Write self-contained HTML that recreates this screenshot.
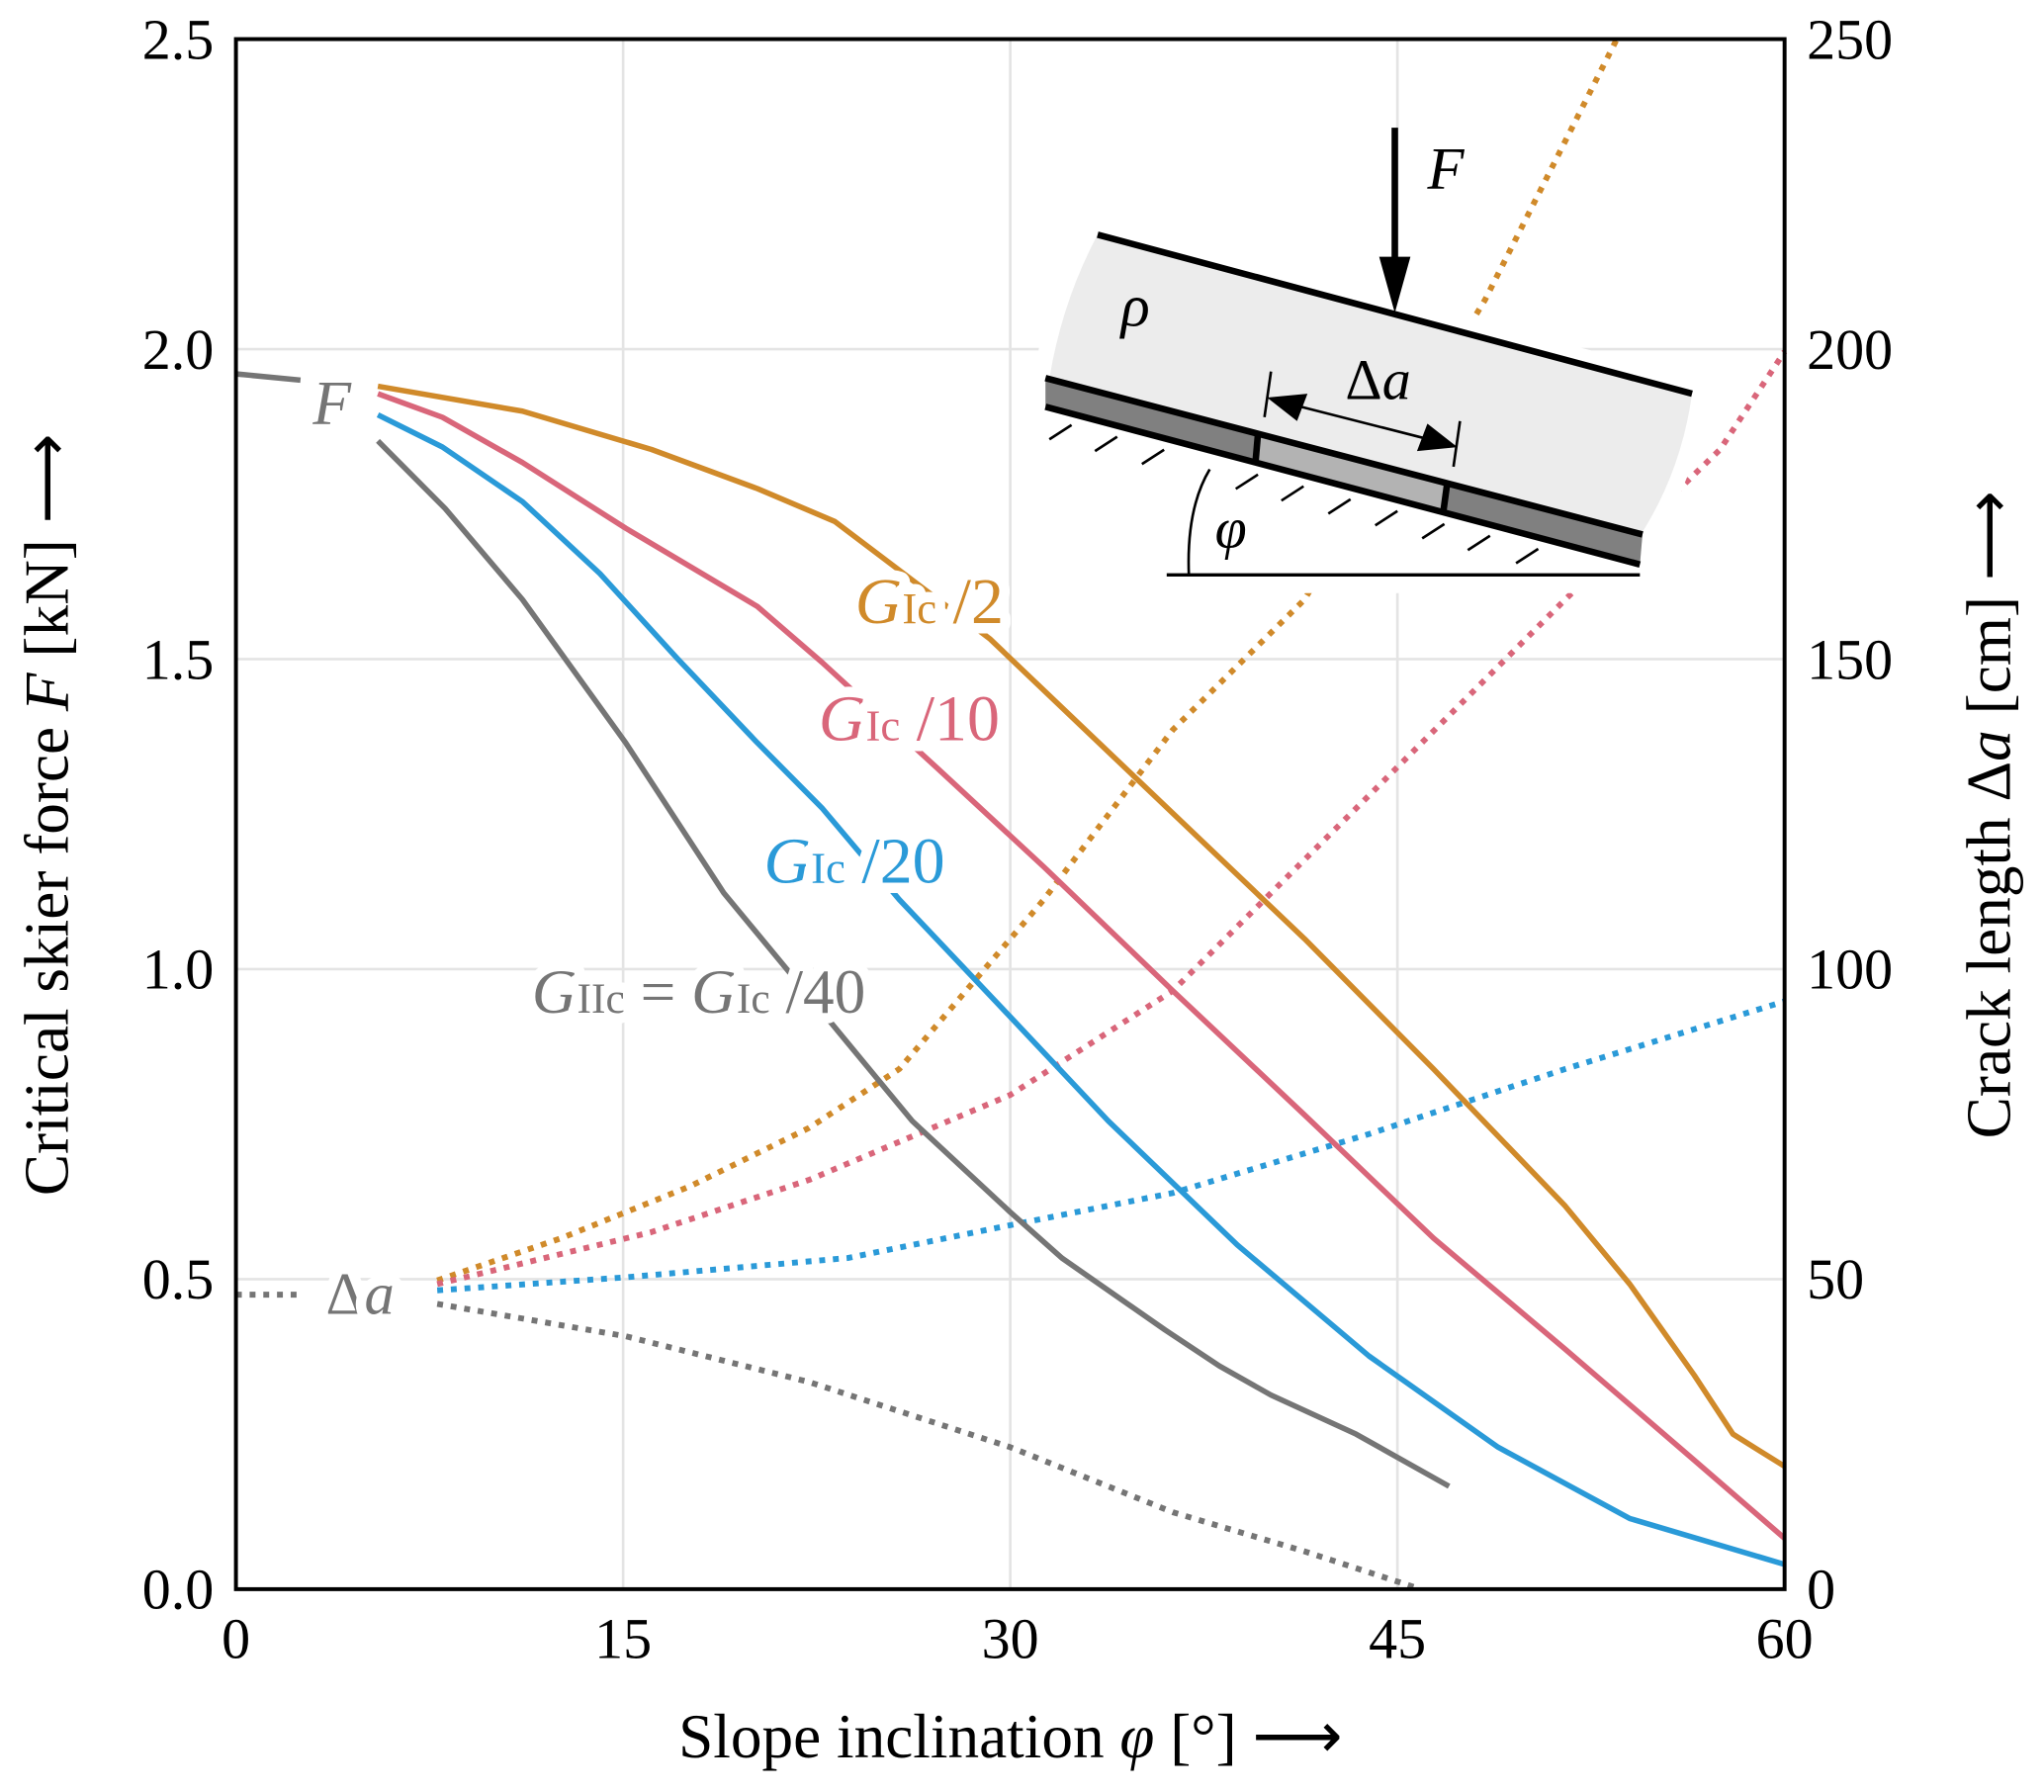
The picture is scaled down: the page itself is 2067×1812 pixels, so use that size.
<!DOCTYPE html>
<html><head><meta charset="utf-8"><style>
html,body{margin:0;padding:0;background:#fff}
svg{display:block}
text{font-family:"Liberation Serif",serif}
</style></head><body>
<svg id="chart" width="2067" height="1812" viewBox="0 0 1568 1374.6" preserveAspectRatio="none" xmlns="http://www.w3.org/2000/svg">
<g id="grid"></g>
<g id="series"></g>
<g id="inset">
  <path d="M842,180 L1298,302 Q1290,360 1260,408 L1258,443 L895,443 L800,318 Q810,240 842,180 Z" fill="#fff" stroke="#fff" stroke-width="24" stroke-linejoin="round"/>
  <path d="M842,180 L1298,302 Q1290,360 1260,408 L1258,433 L802,312 Q810,240 842,180 Z" fill="#ececec"/>
  <polygon points="802,290 965,333 965,355 802,312" fill="#808080"/>
  <polygon points="965,333 1110,372 1108,393 965,355" fill="#b3b3b3"/>
  <polygon points="1110,372 1260,410 1258,433 1108,393" fill="#808080"/>
  <line x1="842" y1="180" x2="1298" y2="302" stroke="#000" stroke-width="5"/>
  <line x1="802" y1="290" x2="1260" y2="410" stroke="#000" stroke-width="5"/>
  <line x1="802" y1="312" x2="1258" y2="433" stroke="#000" stroke-width="5"/>
  <line x1="965" y1="333" x2="963" y2="356" stroke="#000" stroke-width="5"/>
  <line x1="1110" y1="372" x2="1107" y2="394" stroke="#000" stroke-width="5"/>
  <g stroke="#000" stroke-width="2">
    <line x1="822" y1="326" x2="805" y2="337"/><line x1="857" y1="335" x2="840" y2="346"/><line x1="893" y1="345" x2="876" y2="356"/>
    <line x1="965" y1="364" x2="948" y2="375"/><line x1="1000" y1="373" x2="983" y2="384"/><line x1="1036" y1="383" x2="1019" y2="394"/>
    <line x1="1072" y1="392" x2="1055" y2="403"/><line x1="1108" y1="402" x2="1091" y2="413"/><line x1="1143" y1="411" x2="1126" y2="422"/><line x1="1180" y1="421" x2="1163" y2="432"/>
  </g>
  <line x1="895" y1="441" x2="1258" y2="441" stroke="#000" stroke-width="2.5"/>
  <path d="M912,441 Q910,390 928,360" fill="none" stroke="#000" stroke-width="2"/>
  <line x1="1070" y1="98" x2="1070" y2="200" stroke="#000" stroke-width="5"/>
  <polygon points="1058,197 1082,197 1070,240" fill="#000"/>
  <line x1="990" y1="310" x2="1100" y2="338" stroke="#000" stroke-width="2"/>
  <polygon points="972,305 1003,302 995,323" fill="#000"/>
  <polygon points="1118,343 1087,346 1095,325" fill="#000"/>
  <line x1="975" y1="285" x2="970" y2="320" stroke="#000" stroke-width="2"/>
  <line x1="1120" y1="323" x2="1115" y2="358" stroke="#000" stroke-width="2"/>
  <text x="1095" y="145" font-size="46" font-style="italic">F</text>
  <text x="860" y="250" font-size="46" font-style="italic">ρ</text>
  <text x="1032" y="306" font-size="44">Δ<tspan font-style="italic">a</tspan></text>
  <text x="932" y="420" font-size="44" font-style="italic">φ</text>
</g>
<g id="labels"></g>
<g id="axes"></g>
</svg>
<script>
const xTicks=[0,15,30,45,60];
const yTicksL=[0.0,0.5,1.0,1.5,2.0,2.5];
const yTickLabelsL=["0.0","0.5","1.0","1.5","2.0","2.5"];
const yTicksR=[0,50,100,150,200,250];
// force series [kN]
const phiHalf=[5.5,11.1,16.1,20.2,23.2,29.2,35.3,41.4,46.4,51.5,54,56.5,58,60];
const fHalf=[1.94,1.90,1.838,1.775,1.722,1.533,1.291,1.049,0.839,0.618,0.492,0.345,0.25,0.198];
const phiTenth=[5.5,8,11.1,15.1,20.2,22.7,27.2,31.3,36.3,41.4,46.4,51.5,56.5,60];
const fTenth=[1.928,1.89,1.817,1.711,1.585,1.495,1.323,1.165,0.965,0.765,0.566,0.387,0.208,0.082];
const phiTwentieth=[5.5,8,11.1,14.1,17.1,20.2,22.7,25.7,30,33.8,38.8,43.9,48.9,54,60];
const fTwentieth=[1.894,1.842,1.754,1.638,1.501,1.365,1.26,1.112,0.923,0.755,0.555,0.376,0.229,0.114,0.04];
const phiFortieth=[5.5,8.1,11.1,15.1,18.9,23.7,26.2,30,32,36,38.1,40.1,43.4,47];
const fFortieth=[1.852,1.743,1.596,1.365,1.123,0.881,0.755,0.608,0.534,0.418,0.36,0.313,0.25,0.166];
// crack length series [cm]
const phiDaHalf=[7.8,12.6,17.6,22.2,25.7,31.3,36.3,41.4,48.4,53.5];
const daHalf=[49.8,56.6,65,74.4,83.9,111.2,138.6,159.6,208,250];
const phiDaTenth=[7.8,16.1,22.2,30,36.3,43.9,51.5,57.5,60];
const daTenth=[49.2,57.6,66,79.7,96.5,128,159.6,183.8,199.6];
const phiDaTwentieth=[7.8,15.1,23.7,30,36.3,43.9,51.5,60];
const daTwentieth=[48.2,50.3,53.4,58.7,63.9,73.4,83.9,94.8];
const phiDaFortieth=[7.8,15.1,22.2,30,36.3,41.4,45.9];
const daFortieth=[46,40.8,33.4,22.9,12.4,6.1,0];

const X0=181,X1=1369,Y0=1219,Y1=30;
const xs=p=>X0+p/60*(X1-X0);
const yF=v=>Y0-v/2.5*(Y0-Y1);
const yA=v=>Y0-v/250*(Y0-Y1);
const NS="http://www.w3.org/2000/svg";
function mk(tag,parent,attrs){const e=document.createElementNS(NS,tag);for(const k in attrs)e.setAttribute(k,attrs[k]);parent.appendChild(e);return e;}
const grid=document.getElementById('grid'),ser=document.getElementById('series'),lab=document.getElementById('labels'),ax=document.getElementById('axes');
xTicks.slice(1,-1).forEach(t=>{const l=mk('line',grid,{x1:xs(t),x2:xs(t),y1:Y1,y2:Y0,stroke:'#e4e4e4','stroke-width':2});

});
yTicksL.slice(1,-1).forEach(t=>{const l=mk('line',grid,{x1:X0,x2:X1,y1:yF(t),y2:yF(t),stroke:'#e4e4e4','stroke-width':2});

});
function path(px,py,fy){return px.map((p,i)=>(i?'L':'M')+xs(p).toFixed(1)+','+fy(py[i]).toFixed(1)).join(' ');}
const colors={half:'#d08a2a',tenth:'#d9667a',twentieth:'#2a9ad8',fortieth:'#757575'};
function line(px,py,fy,col,dotted,name){const e=mk('path',ser,{d:path(px,py,fy),fill:'none',stroke:col,'stroke-width':dotted?4.5:4.2,'stroke-dasharray':dotted?'4.5 6':'none','stroke-linejoin':'round'});

}
line(phiDaHalf,daHalf,yA,colors.half,true,'crack-length-gic-2');
line(phiDaTenth,daTenth,yA,colors.tenth,true,'crack-length-gic-10');
line(phiDaTwentieth,daTwentieth,yA,colors.twentieth,true,'crack-length-gic-20');
line(phiDaFortieth,daFortieth,yA,colors.fortieth,true,'crack-length-gic-40');
line(phiHalf,fHalf,yF,colors.half,false,'force-gic-2');
line(phiTenth,fTenth,yF,colors.tenth,false,'force-gic-10');
line(phiTwentieth,fTwentieth,yF,colors.twentieth,false,'force-gic-20');
line(phiFortieth,fFortieth,yF,colors.fortieth,false,'force-gic-40');
line([0,2.5],[1.96,1.95],yF,colors.fortieth,false,'force-legend-stub');
line([0,2.5],[47.5,47.5],yA,colors.fortieth,true,'crack-legend-stub');
function txt(parent,x,y,s,html,attrs,name){const e=mk('text',parent,Object.assign({x:x,y:y,'font-size':s},attrs||{}));e.innerHTML=html;

return e;}
const halo={stroke:'#fff','stroke-width':16,'paint-order':'stroke','stroke-linejoin':'round'};
txt(lab,656,478,50,'<tspan font-style="italic">G</tspan><tspan font-size="34">Ic</tspan> /2',Object.assign({fill:colors.half},halo),'label-gic-2');
txt(lab,628,568,50,'<tspan font-style="italic">G</tspan><tspan font-size="34">Ic</tspan> /10',Object.assign({fill:colors.tenth},halo),'label-gic-10');
txt(lab,586,677,50,'<tspan font-style="italic">G</tspan><tspan font-size="34">Ic</tspan> /20',Object.assign({fill:colors.twentieth},halo),'label-gic-20');
txt(lab,408,777,48,'<tspan font-style="italic">G</tspan><tspan font-size="33">IIc</tspan> = <tspan font-style="italic">G</tspan><tspan font-size="33">Ic</tspan> /40',Object.assign({fill:colors.fortieth},halo),'label-giic-40');
txt(lab,240,325,48,'<tspan font-style="italic">F</tspan>',Object.assign({fill:colors.fortieth},halo),'legend-force');
txt(lab,250,1008,46,'Δ<tspan font-style="italic">a</tspan>',Object.assign({fill:colors.fortieth},halo),'legend-crack');
const fr=mk('rect',ax,{x:X0,y:Y1,width:X1-X0,height:Y0-Y1,fill:'none',stroke:'#000','stroke-width':3});


xTicks.forEach(t=>txt(ax,xs(t),1272,44,String(t),{'text-anchor':'middle'},'x-tick-label'));
yTicksL.forEach((t,i)=>txt(ax,164,yF(t)+15,44,yTickLabelsL[i],{'text-anchor':'end'},'y-left-tick-label'));
yTicksR.forEach(t=>txt(ax,1386,yA(t)+15,44,String(t),{},'y-right-tick-label'));
txt(ax,775,1348,48,'Slope inclination <tspan font-style="italic">φ</tspan> [°]  ⟶',{'text-anchor':'middle'},'x-axis-title');
txt(ax,0,0,48,'Critical skier force <tspan font-style="italic">F</tspan> [kN]  ⟶',{'text-anchor':'middle',transform:'translate(52,625) rotate(-90)'},'y-left-axis-title');
txt(ax,0,0,48,'Crack length Δ<tspan font-style="italic">a</tspan> [cm]  ⟶',{'text-anchor':'middle',transform:'translate(1542,625) rotate(-90)'},'y-right-axis-title');
</script>
</body></html>
